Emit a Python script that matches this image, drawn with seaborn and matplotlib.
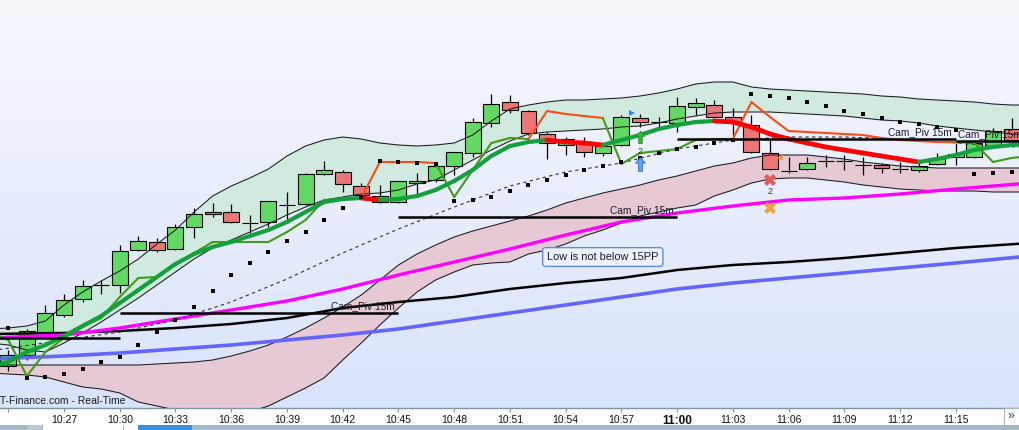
import numpy as np
import pandas as pd
import matplotlib.pyplot as plt
import seaborn as sns
from matplotlib.collections import LineCollection
from matplotlib.colors import LinearSegmentedColormap
from matplotlib.patches import Rectangle
from matplotlib.path import Path

# one candle per minute, t = minutes after 10:27
bar_t = list(range(-3, 52))
opens = [42, 53, 76, 93, 109, 123, 123, 158, 166, 159, 181, 196, 196, 185, 186, 203, 204, 234, 236, 222,
         212, 206, 225, 228, 242, 255, 285, 306, 297, 274, 263, 266, 255, 263, 290, 286, 285, 301, 303, 291,
         283, 255, 237, 239, 247, 247, 243, 243, 239, 238, 244, 251, 251, 262, 279]
highs = [58, 79, 103, 114, 128, 128, 163, 172, 170, 184, 200, 205, 204, 193, 207, 216, 235, 247, 238, 225,
         223, 227, 235, 242, 256, 290, 314, 313, 298, 276, 271, 271, 264, 293, 294, 291, 311, 310, 308, 300,
         293, 269, 251, 251, 253, 253, 251, 245, 246, 245, 255, 265, 268, 280, 290]
lows = [37, 48, 74, 91, 106, 114, 115, 157, 156, 158, 170, 191, 185, 175, 181, 188, 203, 233, 216, 211,
        205, 205, 211, 226, 233, 251, 281, 295, 273, 249, 253, 251, 252, 262, 281, 281, 276, 293, 290, 273,
        255, 238, 235, 238, 241, 238, 233, 235, 235, 236, 243, 243, 250, 261, 267]
closes = [53, 77, 95, 108, 122, 123, 157, 167, 158, 181, 194, 194, 186, 185, 207, 203, 234, 238, 224, 213,
          206, 227, 227, 242, 256, 286, 304, 298, 275, 265, 269, 256, 262, 291, 286, 286, 302, 305, 291, 285,
          256, 239, 237, 245, 247, 247, 243, 240, 239, 242, 250, 254, 265, 277, 268]
sar = [80, 30, 31, 34, 39, 46, 51, 63, 76, 88, 101, 117, 133, 145, 156, 167, 176, 188, 200, 211,
       247, 246, 245, 244, 207, 208, 211, 217, 223, 228, 233, 238, 242, 246, 250, 255, 259, 261, 265, 268,
       314, 312, 310, 306, 302, 297, 294, 290, 286, 284, 281, 278, 234, 235, 236]

# per-minute indicators, t = -4 .. 52
ind_t = list(range(-4, 53))
band_up = [79, 80, 82, 87, 103, 116, 127, 137, 149, 164, 178, 196, 212, 222, 230, 239, 252, 262, 268, 271,
           269, 265, 263, 262, 263, 265, 273, 287, 299, 303, 306, 308, 308, 309, 310, 312, 315, 319, 324, 326,
           326, 321, 319, 318, 317, 316, 315, 314, 312, 311, 309, 308, 307, 306, 304, 303, 303]
band_mid = [65, 63, 58, 56, 65, 75, 86, 98, 110, 123, 136, 149, 160, 168, 176, 184, 193, 201, 208, 211,
            214, 215, 218, 224, 228, 238, 248, 258, 267, 274, 276, 277, 278, 279, 281, 282, 285, 289, 292, 295,
            296, 296, 296, 295, 294, 293, 292, 290, 288, 287, 285, 282, 280, 278, 276, 274, 273]
env_up = [43, 43, 43, 43, 43, 43, 43, 43, 43, 44, 45, 46, 48, 52, 57, 63, 71, 80, 90, 101,
          113, 128, 143, 154, 163, 171, 177, 182, 187, 192, 198, 205, 210, 215, 219, 223, 228, 232, 237, 242,
          245, 250, 253, 253, 253, 251, 249, 246, 244, 242, 241, 240, 240, 240, 240, 240, 240]
env_low = [35, 34, 33, 31, 26, 21, 19, 15, 6, 2, -2, -5, -7, -7, -4, 2, 11, 20, 30, 48,
           65, 83, 100, 116, 128, 136, 143, 145, 146, 154, 158, 164, 172, 178, 185, 192, 196, 200, 203, 212,
           218, 225, 229, 230, 230, 228, 226, 223, 221, 219, 218, 217, 217, 217, 216, 216, 216]
ma_fast = [41, 46, 56, 63, 72, 82, 92, 105, 118, 131, 144, 154, 161, 166, 172, 178, 186, 196, 206, 209,
           210, 208, 209, 212, 218, 227, 238, 252, 262, 266, 268, 266, 265, 263, 268, 273, 279, 283, 286, 287,
           286, 281, 274, 269, 265, 261, 258, 255, 252, 249, 246, 249, 253, 258, 261, 263, 264]
ma_zig = [76, 68, 32, 56, 70, 81, 90, 111, 130, 131, 144, 155, 166, 166, 166, 166, 176, 188, 208, 209,
          210, 246, 246, 246, 245, 211, 238, 265, 270, 269, 297, 294, 292, 290, 244, 255, 257, 259, 268, 269,
          269, 306, 291, 277, 276, 275, 274, 273, 270, 268, 267, 266, 266, 265, 246, 250, 252]
zig_orange_from = [16, 17, 18, 19, 25, 26, 27, 28] + list(range(36, 48))

# slow averages, sampled every 3 minutes
ma_t = [-4, 0, 3, 6, 9, 12, 15, 18, 21, 24, 27, 30, 33, 36, 39, 42, 45, 48, 52]
ma_magenta = [70, 73, 80, 89, 98, 107, 119, 133, 146, 159, 173, 186, 195, 202, 208, 210, 214, 219, 225]
ma_black = [74, 75, 77, 80, 84, 90, 100, 106, 111, 119, 125, 130, 138, 143, 146, 150, 155, 160, 165]
ma_blue = [49, 52, 55, 59, 63, 68, 73, 79, 87, 95, 103, 111, 119, 125, 130, 135, 140, 145, 152]
ma_dashed = [57, 68, 76, 88, 106, 129, 155, 179, 201, 222, 236, 245, 259, 268, 271, 271, 269, 265, 260]

# 15 minute camarilla pivots
piv_start = [-12, 3, 18, 33, 48]
piv_end = [3, 18, 33, 48, 63]
piv_level = [70, 95, 191, 269, 267]
piv_label_t = [None, 17.8, 32.8, 47.8, 51.55]

tick_t = list(range(-3, 49, 3))
tick_lab = ["", "10:27", "10:30", "10:33", "10:36", "10:39", "10:42", "10:45", "10:48", "10:51",
            "10:54", "10:57", "11:00", "11:03", "11:06", "11:09", "11:12", "11:15"]

sns.set_theme(style="white")
plt.rcParams["font.family"] = ["Liberation Sans", "DejaVu Sans"]

fig = plt.figure(figsize=(10.19, 4.30), dpi=100, facecolor="white")
ax = fig.add_axes([0, 22 / 430, 1, 408 / 430])
x0, x1, y0, y1 = -3.445, 51.4, 0, 408

bg = LinearSegmentedColormap.from_list("bg", ["#f6f8fe", "#d9e3fb"])
ax.imshow(np.linspace(0, 1, 256).reshape(-1, 1), extent=[x0, x1, y0, y1], cmap=bg,
          aspect="auto", zorder=0)

# channels
ax.fill_between(ind_t, band_mid, band_up, color="#d0eadf", lw=0, zorder=1)
ax.fill_between(ind_t, env_low, env_up, color="#e6c9d5", lw=0, zorder=1)

# candles
body_col = ["#62d962" if c >= o else "#ec7676" for o, c in zip(opens, closes)]
heights = [max(abs(c - o), 0.01) for o, c in zip(opens, closes)]
bottoms = [min(o, c) for o, c in zip(opens, closes)]
ax.vlines(bar_t, lows, highs, color="black", lw=0.9, zorder=2)
ax.bar(bar_t, heights, bottom=bottoms, width=0.86, color=body_col, edgecolor="black",
       linewidth=0.8, zorder=3)

for series in (band_up, band_mid, env_up, env_low):
    ax.plot(ind_t, series, color="#1a1a1a", lw=0.75, zorder=4)

ma_df = pd.DataFrame({"t": ma_t, "magenta": ma_magenta, "black": ma_black, "blue": ma_blue})
sns.lineplot(data=ma_df, x="t", y="blue", color="#6464ff", linewidth=2.6, ax=ax, zorder=5)
sns.lineplot(data=ma_df, x="t", y="black", color="black", linewidth=1.8, ax=ax, zorder=5)
sns.lineplot(data=ma_df, x="t", y="magenta", color="#ff00ff", linewidth=2.4, ax=ax, zorder=5)
ax.plot(ma_t, ma_dashed, color="#333333", lw=0.8, ls=(0, (3, 3)), zorder=5)

# zig-zag average: olive / orange
segs = [[(ind_t[i], ma_zig[i]), (ind_t[i + 1], ma_zig[i + 1])] for i in range(len(ind_t) - 1)]
cols = ["#ff4a10" if ind_t[i] in zig_orange_from else "#3f9c14" for i in range(len(segs))]
ax.add_collection(LineCollection(segs, colors=cols, linewidths=1.5, capstyle="round", zorder=6))

# fast average: green rising, red falling
segs = [[(ind_t[i], ma_fast[i]), (ind_t[i + 1], ma_fast[i + 1])] for i in range(len(ind_t) - 1)]
falling = [ma_fast[i + 1] < ma_fast[i] for i in range(len(segs))]
ax.add_collection(LineCollection(segs, colors=["#ff0000" if f else "#13a03d" for f in falling],
                                 linewidths=[3.4 if f else 3.0 for f in falling],
                                 capstyle="round", zorder=6))

ax.hlines(piv_level, piv_start, piv_end, color="black", lw=1.8, zorder=6)
for lt, lv in zip(piv_label_t, piv_level):
    if lt is not None:
        ax.text(lt, lv + 1.5, "Cam_Piv 15m", ha="right", va="bottom", fontsize=7.3,
                color="#1a1a2a", zorder=9)

sns.scatterplot(x=bar_t, y=sar, marker="s", s=5, color="black", linewidth=0, ax=ax, zorder=7)

# signals
arrow = Path([(0, 1), (0.7, 0.2), (0.28, 0.2), (0.28, -1), (-0.28, -1), (-0.28, 0.2), (-0.7, 0.2), (0, 1)],
             [Path.MOVETO] + [Path.LINETO] * 6 + [Path.CLOSEPOLY])
ax.plot(31, 271, marker=arrow, ms=9, color="#35b935", mec="#1e8a1e", mew=0.5, zorder=9)
ax.text(31, 257, "2", fontsize=6.5, ha="center", va="center", color="#333333", zorder=9)
ax.plot(31, 244, marker=arrow, ms=10, color="#62a0f0", mec="#2f6fd6", mew=0.6, zorder=9)
ax.plot(30.55, 295, marker=">", ms=5, color="#3f7fe0", mew=0, zorder=9)
ax.plot(38, 228, marker="X", ms=8, color="#e05a5a", mew=0, zorder=9)
ax.text(38, 216, "2", fontsize=6.5, ha="center", va="center", color="#333333", zorder=9)
ax.plot(38, 200, marker="X", ms=8, color="#f4a43a", mew=0, zorder=9)
ax.plot(38.55, 250, marker="<", ms=5, color="#f0a020", mew=0, zorder=9)

ax.text(29.0, 151, "Low is not below 15PP", fontsize=7.9, ha="center", va="center", color="#1a1a3a",
        zorder=9, bbox=dict(boxstyle="round,pad=0.4,rounding_size=0.3", fc="#eef2fc", ec="#5a8ee0", lw=1))
ax.text(x0 - 0.17, 7, "IT-Finance.com - Real-Time", fontsize=7.5, ha="left", va="center",
        color="#1c1c1c", zorder=9, clip_on=False)

ax.set_xlim(x0, x1)
ax.set_ylim(y0, y1)
ax.set_xticks(tick_t)
ax.set_xticklabels(tick_lab)
ax.set_yticks([])
ax.set_xlabel("")
ax.set_ylabel("")
for s in ("top", "right", "left"):
    ax.spines[s].set_visible(False)
ax.spines["bottom"].set_color("#7f95a6")
ax.spines["bottom"].set_linewidth(1.0)
ax.tick_params(axis="x", direction="out", length=3, width=0.8, color="#7f95a6", pad=2,
               labelsize=7.5, labelcolor="#111111", bottom=True)
for lab in ax.get_xticklabels():
    if lab.get_text() == "11:00":
        lab.set_fontweight("bold")
        lab.set_fontsize(8.5)

# scrollbar strip and >> button
W, H = 1019, 430
fig.add_artist(Rectangle((0, 0), 1, 5 / H, transform=fig.transFigure, fc="#a3b9c5", ec="none"))
fig.add_artist(Rectangle((27 / W, 0), 15 / W, 5 / H, transform=fig.transFigure, fc="#b8cad3", ec="none"))
fig.add_artist(Rectangle((43 / W, 0), 95 / W, 5 / H, transform=fig.transFigure, fc="white", ec="none"))
fig.add_artist(Rectangle((123 / W, 0), 1 / W, 5 / H, transform=fig.transFigure, fc="#a3b9c5", ec="none"))
fig.add_artist(Rectangle((138 / W, 0), 54 / W, 5 / H, transform=fig.transFigure, fc="#3c8fdb", ec="none"))
fig.add_artist(Rectangle((1004 / W, 5 / H), 15 / W, 17 / H, transform=fig.transFigure, fc="white",
                         ec="#a9b4bc", lw=0.8))
fig.text(1011.5 / W, 13.5 / H, "»", fontsize=9, ha="center", va="center", color="#444444")

fig.savefig("out.png", dpi=100)
